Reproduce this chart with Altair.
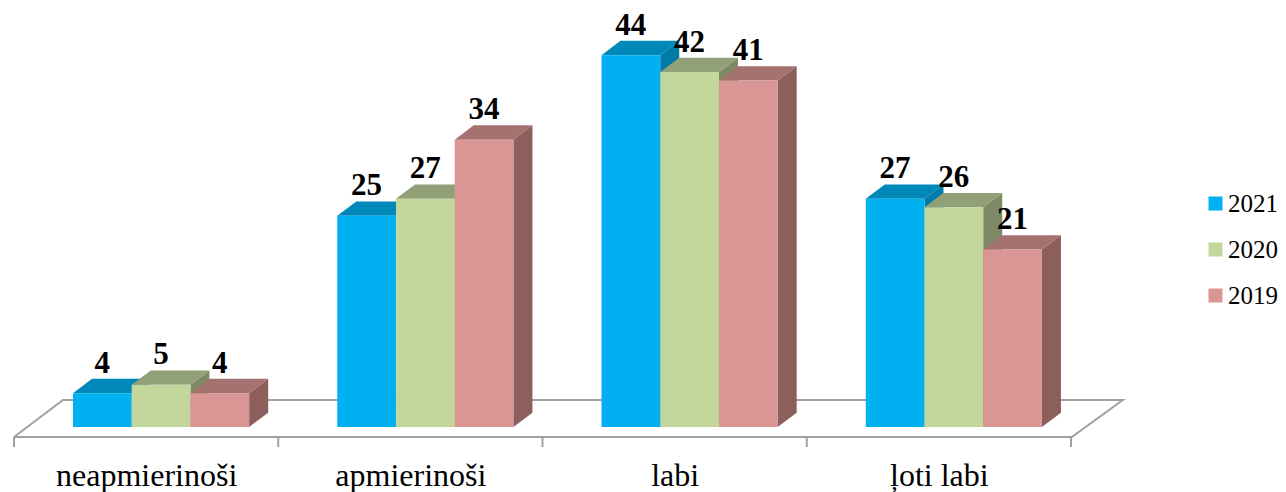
import altair as alt
import pandas as pd

categories = ["neapmierinoši", "apmierinoši", "labi", "ļoti labi"]
years = ["2021", "2020", "2019"]
v2021 = [4, 25, 44, 27]
v2020 = [5, 27, 42, 26]
v2019 = [4, 34, 41, 21]
front_colors = ["#00B0F0", "#C3D69B", "#D99694"]
top_colors = ["#0088B9", "#92A077", "#A5726F"]
side_colors = ["#007AA6", "#7E8A66", "#8C5F5D"]

# projection of the pseudo-3D depth, in data units
DX, DY = 0.072, 1.70
BAR_W, GROUP_START = 0.2222, 0.2233

series = [v2021, v2020, v2019]
fronts, sides, tops, labels = [], [], [], []
for c in range(len(categories)):
    for s, y in enumerate(years):
        v = series[s][c]
        x0 = c + GROUP_START + s * BAR_W
        x1 = x0 + BAR_W
        bid = f"{c}-{s}"
        fronts.append(dict(x=x0, x2=x1, y=0, y2=v, year=y))
        sides += [
            dict(b=bid, x=x1, y=v, y2=0, f=side_colors[s]),
            dict(b=bid, x=x1 + DX, y=v + DY, y2=DY, f=side_colors[s]),
        ]
        tops += [
            dict(b=bid, x=x0, y=v, y2=v, f=top_colors[s]),
            dict(b=bid, x=x0 + DX, y=v + DY, y2=v, f=top_colors[s]),
            dict(b=bid, x=x1, y=v + DY, y2=v, f=top_colors[s]),
            dict(b=bid, x=x1 + DX, y=v + DY, y2=v + DY, f=top_colors[s]),
        ]
        labels.append(dict(x=(x0 + x1) / 2, y=v + DY, t=str(v)))

W, H = 1270, 484
X_DOM = [-6 / 264.25, (W - 6) / 264.25]
Y_DOM = [-7.692, 49.586]
xs = alt.Scale(domain=X_DOM, nice=False, zero=False)
ys = alt.Scale(domain=Y_DOM, nice=False, zero=False)
GRAY = "#A0A0A0"

floor_df = pd.DataFrame(
    dict(
        x=[0, 0.1854, 4.196, 4.003, 0],
        y=[-1.183, 3.195, 3.195, -1.183, -1.183],
        o=[0, 1, 2, 3, 4],
    )
)
floor = (
    alt.Chart(floor_df)
    .mark_line(color=GRAY, strokeWidth=2)
    .encode(
        x=alt.X(
            "x:Q",
            scale=xs,
            title=None,
            axis=alt.Axis(
                values=[0.5, 1.5, 2.5, 3.5],
                labelExpr="['neapmierinoši','apmierinoši','labi','ļoti labi'][floor(datum.value)]",
                domain=False,
                ticks=False,
                grid=False,
                labelFont="Liberation Serif",
                labelFontSize=32,
                labelColor="#000000",
                labelPadding=-32,
                labelFlush=False,
                labelOverlap=False,
                labelLimit=400,
            ),
        ),
        y=alt.Y("y:Q", scale=ys, axis=None),
        order="o:Q",
    )
)
ticks = (
    alt.Chart(pd.DataFrame(dict(x=[0, 1, 2, 3, 4], y=[-1.183] * 5, y2=[-2.37] * 5)))
    .mark_rule(color=GRAY, strokeWidth=2)
    .encode(x=alt.X("x:Q", scale=xs), y=alt.Y("y:Q", scale=ys), y2="y2:Q")
)
side = (
    alt.Chart(pd.DataFrame(sides))
    .mark_area(opacity=1)
    .encode(
        x=alt.X("x:Q", scale=xs),
        y=alt.Y("y:Q", scale=ys),
        y2="y2:Q",
        detail="b:N",
        color=alt.Color("f:N", scale=None),
    )
)
top = (
    alt.Chart(pd.DataFrame(tops))
    .mark_area(opacity=1)
    .encode(
        x=alt.X("x:Q", scale=xs),
        y=alt.Y("y:Q", scale=ys),
        y2="y2:Q",
        detail="b:N",
        color=alt.Color("f:N", scale=None),
    )
)
front = (
    alt.Chart(pd.DataFrame(fronts))
    .mark_rect()
    .encode(
        x=alt.X("x:Q", scale=xs),
        x2="x2:Q",
        y=alt.Y("y:Q", scale=ys),
        y2="y2:Q",
        fill=alt.Fill(
            "year:N",
            sort=years,
            scale=alt.Scale(domain=years, range=front_colors),
            legend=alt.Legend(
                title=None,
                orient="none",
                legendX=1195,
                legendY=183,
                symbolType="square",
                symbolSize=196,
                symbolStrokeWidth=0,
                labelFont="Liberation Serif",
                labelFontSize=25,
                labelColor="#000000",
                rowPadding=20,
                labelOffset=0,
                padding=0,
            ),
        ),
    )
)
text = (
    alt.Chart(pd.DataFrame(labels))
    .mark_text(
        font="Liberation Serif",
        fontWeight="bold",
        fontSize=31,
        color="#000000",
        baseline="alphabetic",
        dy=-6,
    )
    .encode(x=alt.X("x:Q", scale=xs), y=alt.Y("y:Q", scale=ys), text="t:N")
)

chart = (
    alt.layer(floor, ticks, side, top, front, text)
    .properties(
        width=W,
        height=H,
        padding=0,
        background="#FFFFFF",
        autosize=alt.AutoSizeParams(type="none"),
    )
    .configure_view(stroke=None)
)
chart.save("out.html", embed_options={"renderer": "svg", "actions": False})
